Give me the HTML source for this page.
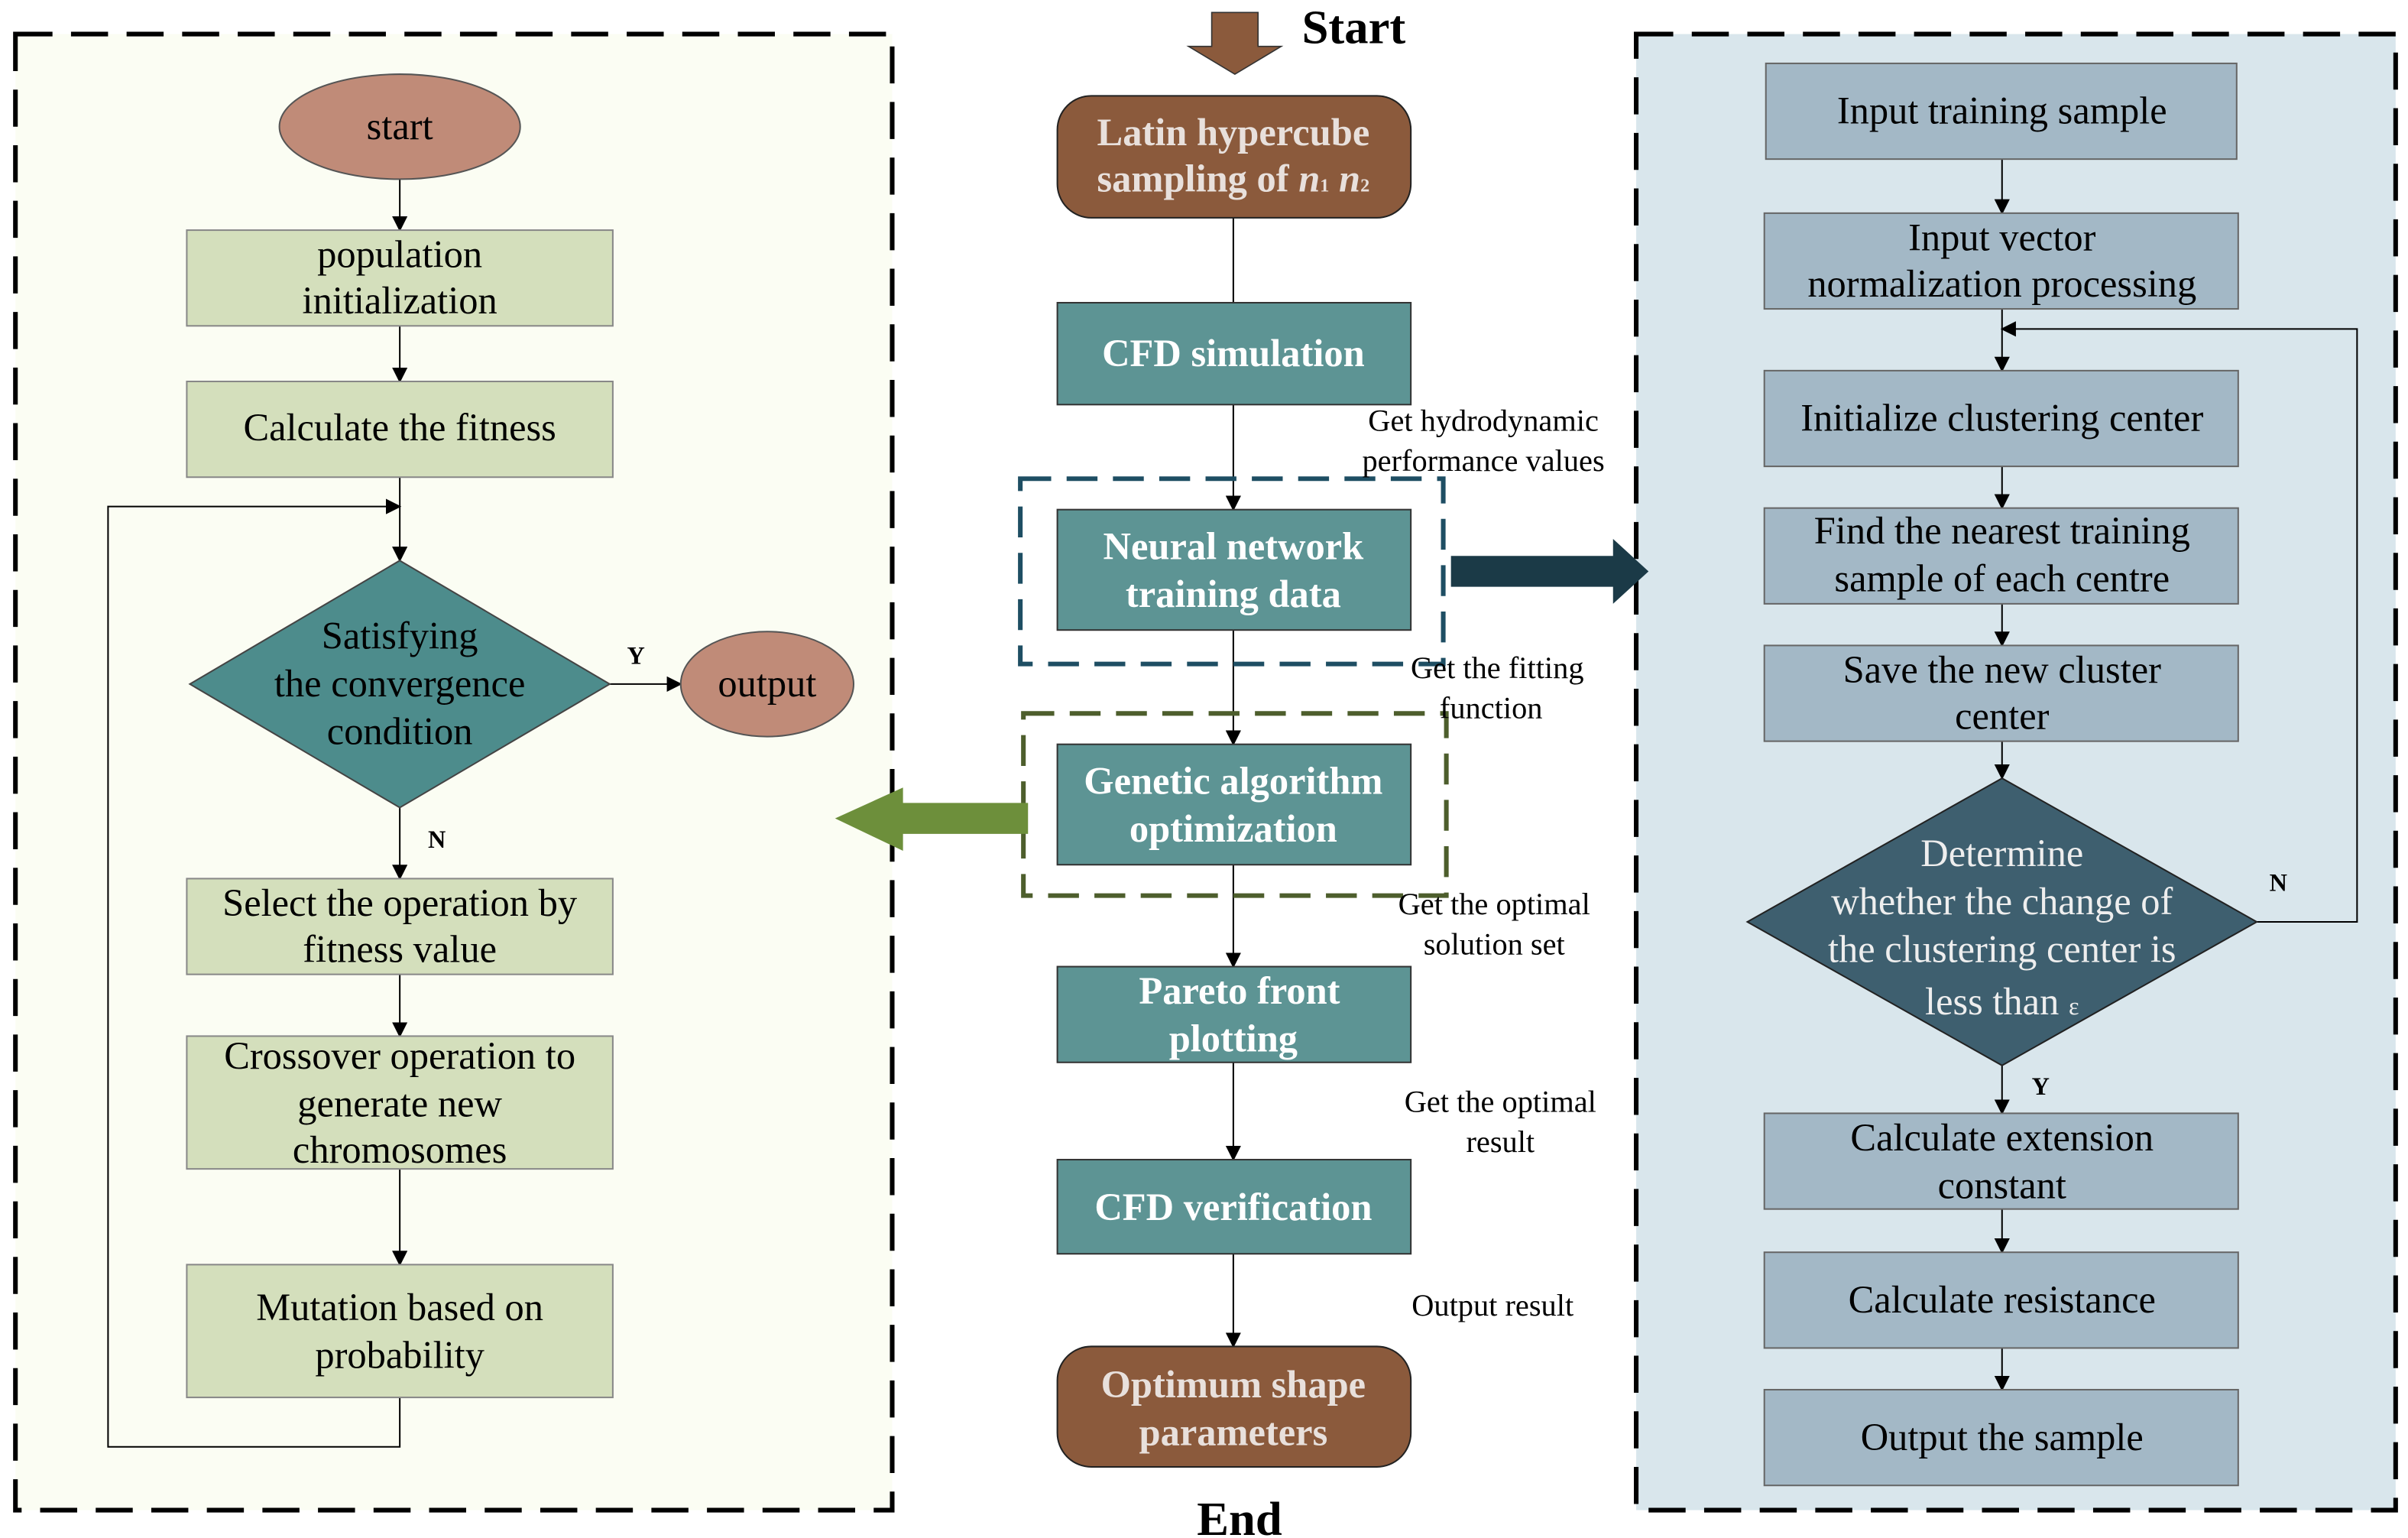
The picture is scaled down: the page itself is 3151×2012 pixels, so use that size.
<!DOCTYPE html>
<html><head><meta charset="utf-8"><style>
html,body{margin:0;padding:0;background:#fff}
svg{display:block}
text{font-family:"Liberation Serif",serif}
</style></head><body>
<svg width="3151" height="2012" viewBox="0 0 1560 996" xmlns="http://www.w3.org/2000/svg">
<defs>
<marker id="a" markerWidth="10" markerHeight="10" refX="9" refY="5" orient="auto" markerUnits="userSpaceOnUse"><path d="M0,0 L10,5 L0,10 z" fill="#000"/></marker>
</defs>
<!-- panels -->
<rect x="10" y="22" width="568" height="956" fill="#fbfdf3" stroke="#000" stroke-width="3" stroke-dasharray="24 12"/>
<rect x="1060" y="22" width="492" height="956" fill="#d9e6ec" stroke="#000" stroke-width="3" stroke-dasharray="24 12"/>

<g font-size="25" text-anchor="middle">
<!-- LEFT -->
<g stroke="#000" stroke-width="1" fill="none">
<line x1="259" y1="116" x2="259" y2="149" marker-end="url(#a)"/>
<line x1="259" y1="211" x2="259" y2="247" marker-end="url(#a)"/>
<line x1="259" y1="309" x2="259" y2="363" marker-end="url(#a)"/>
<line x1="395" y1="443" x2="441" y2="443" marker-end="url(#a)"/>
<line x1="259" y1="523" x2="259" y2="569" marker-end="url(#a)"/>
<line x1="259" y1="631" x2="259" y2="671" marker-end="url(#a)"/>
<line x1="259" y1="757" x2="259" y2="819" marker-end="url(#a)"/>
<polyline points="259,905 259,937 70,937 70,328 259,328" marker-end="url(#a)"/>
</g>
<ellipse cx="259" cy="82" rx="78" ry="34" fill="#c08b78" stroke="#555"/>
<text x="259" y="90">start</text>
<g fill="#d4dfbc" stroke="#888">
<rect x="121" y="149" width="276" height="62"/>
<rect x="121" y="247" width="276" height="62"/>
<rect x="121" y="569" width="276" height="62"/>
<rect x="121" y="671" width="276" height="86"/>
<rect x="121" y="819" width="276" height="86"/>
</g>
<text x="259" y="173">population</text><text x="259" y="203">initialization</text>
<text x="259" y="285">Calculate the fitness</text>
<polygon points="259,363 395,443 259,523 123,443" fill="#4d8c8c" stroke="#444"/>
<text x="259" y="420">Satisfying</text><text x="259" y="451">the convergence</text><text x="259" y="482">condition</text>
<ellipse cx="497" cy="443" rx="56" ry="34" fill="#c08b78" stroke="#555"/>
<text x="497" y="451">output</text>
<text x="412" y="430" font-size="16" font-weight="bold">Y</text>
<text x="283" y="549" font-size="16" font-weight="bold">N</text>
<text x="259" y="593">Select the operation by</text><text x="259" y="623">fitness value</text>
<text x="259" y="692">Crossover operation to</text><text x="259" y="723">generate new</text><text x="259" y="753">chromosomes</text>
<text x="259" y="855">Mutation based on</text><text x="259" y="886">probability</text>

<!-- CENTER -->
<polygon points="785,8 815,8 815,30 830,30 800,48 770,30 785,30" fill="#8b5a3c" stroke="#333" stroke-width="0.8"/>
<text x="877" y="28" font-size="31" font-weight="bold">Start</text>
<text x="803" y="994" font-size="31" font-weight="bold">End</text>
<g stroke="#000" stroke-width="1" fill="none">
<line x1="799" y1="141" x2="799" y2="196"/>
<line x1="799" y1="262" x2="799" y2="330" marker-end="url(#a)"/>
<line x1="799" y1="408" x2="799" y2="482" marker-end="url(#a)"/>
<line x1="799" y1="560" x2="799" y2="626" marker-end="url(#a)"/>
<line x1="799" y1="688" x2="799" y2="751" marker-end="url(#a)"/>
<line x1="799" y1="812" x2="799" y2="872" marker-end="url(#a)"/>
</g>
<rect x="685" y="62" width="229" height="79" rx="22" fill="#8b5a3c" stroke="#222"/>
<text x="799" y="94" fill="#e8e0dc" font-weight="bold">Latin hypercube</text>
<text x="799" y="124" fill="#e8e0dc" font-weight="bold">sampling of <tspan font-style="italic">n</tspan><tspan font-size="12">1</tspan> <tspan font-style="italic">n</tspan><tspan font-size="12">2</tspan></text>
<g fill="#5d9494" stroke="#333">
<rect x="685" y="196" width="229" height="66"/>
<rect x="685" y="330" width="229" height="78"/>
<rect x="685" y="482" width="229" height="78"/>
<rect x="685" y="626" width="229" height="62"/>
<rect x="685" y="751" width="229" height="61"/>
</g>
<g fill="#fff" font-weight="bold">
<text x="799" y="237">CFD simulation</text>
<text x="799" y="362">Neural network</text><text x="799" y="393">training data</text>
<text x="799" y="514">Genetic algorithm</text><text x="799" y="545">optimization</text>
<text x="803" y="650">Pareto front</text><text x="799" y="681">plotting</text>
<text x="799" y="790">CFD verification</text>
</g>
<rect x="685" y="872" width="229" height="78" rx="22" fill="#8b5a3c" stroke="#222"/>
<text x="799" y="905" fill="#e8e0dc" font-weight="bold">Optimum shape</text>
<text x="799" y="936" fill="#e8e0dc" font-weight="bold">parameters</text>
<rect x="661" y="310" width="274" height="120" fill="none" stroke="#1e4e63" stroke-width="3" stroke-dasharray="20 10"/>
<rect x="663" y="462" width="274" height="118" fill="none" stroke="#4d5e2c" stroke-width="3" stroke-dasharray="20 10"/>
<polygon points="940,360 1045,360 1045,349 1068,370 1045,391 1045,380 940,380" fill="#1b3a47"/>
<polygon points="666,520 585,520 585,510 541,530 585,551 585,540 666,540" fill="#6d8f3b"/>
<g font-size="20">
<text x="961" y="279">Get hydrodynamic</text><text x="961" y="305">performance values</text>
<text x="970" y="439">Get the fitting</text><text x="966" y="465">function</text>
<text x="968" y="592">Get the optimal</text><text x="968" y="618">solution set</text>
<text x="972" y="720">Get the optimal</text><text x="972" y="746">result</text>
<text x="967" y="852">Output result</text>
</g>

<!-- RIGHT -->
<g stroke="#000" stroke-width="1" fill="none">
<line x1="1297" y1="103" x2="1297" y2="138" marker-end="url(#a)"/>
<line x1="1297" y1="200" x2="1297" y2="240" marker-end="url(#a)"/>
<line x1="1297" y1="302" x2="1297" y2="329" marker-end="url(#a)"/>
<line x1="1297" y1="391" x2="1297" y2="418" marker-end="url(#a)"/>
<line x1="1297" y1="480" x2="1297" y2="504" marker-end="url(#a)"/>
<line x1="1297" y1="690" x2="1297" y2="721" marker-end="url(#a)"/>
<line x1="1297" y1="783" x2="1297" y2="811" marker-end="url(#a)"/>
<line x1="1297" y1="873" x2="1297" y2="900" marker-end="url(#a)"/>
<polyline points="1462,597 1527,597 1527,213 1297,213" marker-end="url(#a)"/>
</g>
<g fill="#a3b8c6" stroke="#666">
<rect x="1144" y="41" width="305" height="62"/>
<rect x="1143" y="138" width="307" height="62"/>
<rect x="1143" y="240" width="307" height="62"/>
<rect x="1143" y="329" width="307" height="62"/>
<rect x="1143" y="418" width="307" height="62"/>
<rect x="1143" y="721" width="307" height="62"/>
<rect x="1143" y="811" width="307" height="62"/>
<rect x="1143" y="900" width="307" height="62"/>
</g>
<text x="1297" y="80">Input training sample</text>
<text x="1297" y="162">Input vector</text><text x="1297" y="192">normalization processing</text>
<text x="1297" y="279">Initialize clustering center</text>
<text x="1297" y="352">Find the nearest training</text><text x="1297" y="383">sample of each centre</text>
<text x="1297" y="442">Save the new cluster</text><text x="1297" y="472">center</text>
<polygon points="1297,504 1462,597 1297,690 1132,597" fill="#3e5f6f" stroke="#222"/>
<g fill="#eee">
<text x="1297" y="561">Determine</text><text x="1297" y="592">whether the change of</text>
<text x="1297" y="623">the clustering center is</text><text x="1297" y="657">less than <tspan font-size="16">ε</tspan></text>
</g>
<text x="1476" y="577" font-size="16" font-weight="bold">N</text>
<text x="1322" y="709" font-size="16" font-weight="bold">Y</text>
<text x="1297" y="745">Calculate extension</text><text x="1297" y="776">constant</text>
<text x="1297" y="850">Calculate  resistance</text>
<text x="1297" y="939">Output the sample</text>
</g>
</svg>
</body></html>
